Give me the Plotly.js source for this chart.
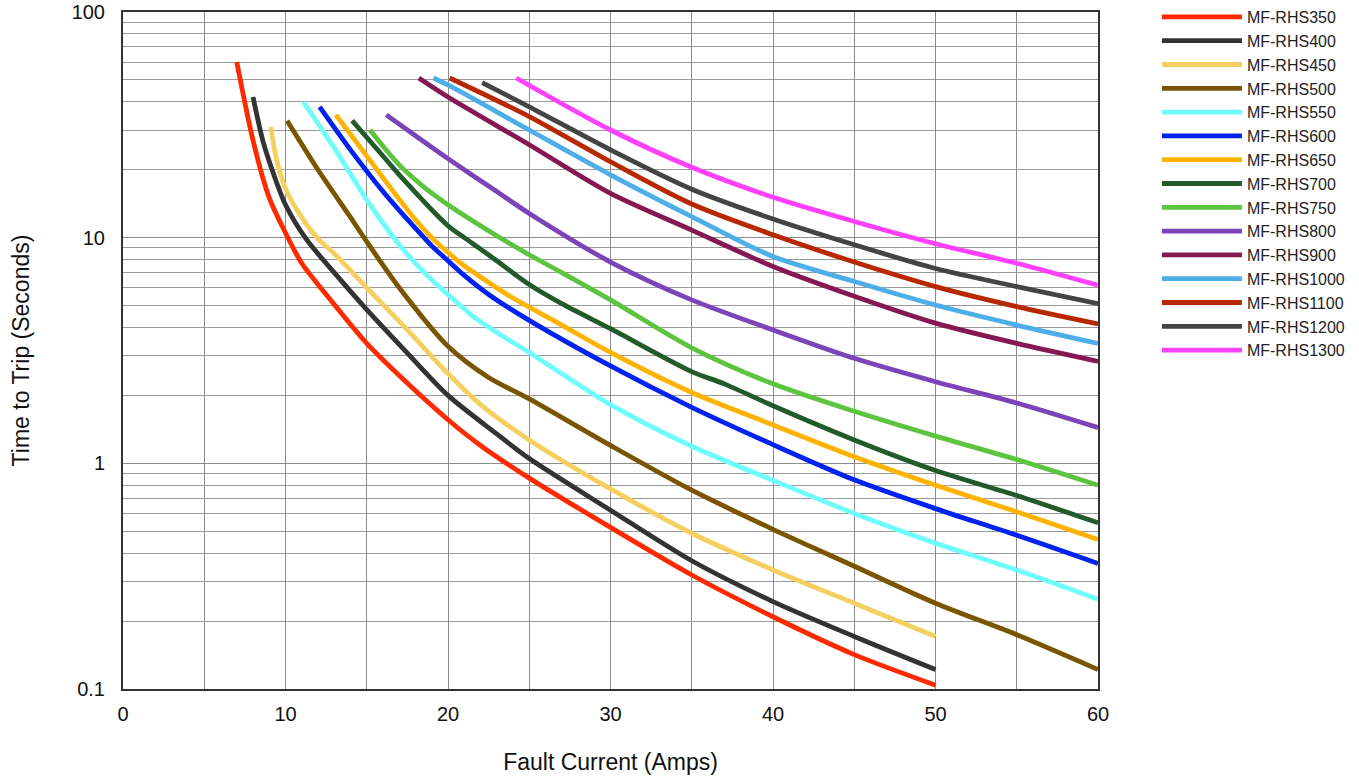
<!DOCTYPE html>
<html>
<head>
<meta charset="utf-8">
<script src="https://cdn.plot.ly/plotly-3.0.1.min.js"></script>
<style>
html,body{margin:0;padding:0;background:#fff;}
#chart{width:1359px;height:780px;}
</style>
</head>
<body>
<div id="chart"></div>
<script>
// Series names
const names = ["MF-RHS350","MF-RHS400","MF-RHS450","MF-RHS500","MF-RHS550","MF-RHS600","MF-RHS650","MF-RHS700","MF-RHS750","MF-RHS800","MF-RHS900","MF-RHS1000","MF-RHS1100","MF-RHS1200","MF-RHS1300"];
const colors = ["#ff2a00","#333333","#f5d060","#7a5500","#6ffcfc","#0022ee","#ffb300","#235a2a","#5cc43e","#7b44b8","#851850","#4daee8","#b82800","#444444","#ff40ff"];

// Fault current (A) and time to trip (s)
const x350 = [7,8,9,10,11,12.5,15,17,20,22,25,30,35,40,45,50];
const y350 = [60,27,15,10.5,7.7,5.6,3.4,2.45,1.56,1.2,0.86,0.52,0.32,0.209,0.142,0.104];
const x400 = [8,8.6,9.25,10,11.3,13,15,17.5,20,23,25,30,35,40,45,50];
const y400 = [42,27,19.3,14,9.8,7.0,4.8,3.08,2.0,1.35,1.05,0.62,0.37,0.244,0.171,0.122];
const x450 = [9.1,9.4,10,11,12,13,15,17.5,20,22,25,30,35,40,45,50];
const y450 = [31,23,16.5,12.3,9.9,8.5,6.0,3.9,2.5,1.82,1.27,0.77,0.49,0.337,0.24,0.171];
const x500 = [10.1,12,14,15,17,20,22.5,25,30,35,40,45,50,55,60];
const y500 = [33,20,12.3,9.6,6.0,3.3,2.4,1.93,1.2,0.76,0.51,0.35,0.24,0.174,0.122];
const x550 = [11.1,13,15,17,18,19,20,21.5,23,25,30,35,40,45,50,55,60];
const y550 = [40,25,14.7,9.3,7.7,6.5,5.6,4.5,3.8,3.1,1.82,1.19,0.84,0.60,0.443,0.337,0.25];
const x600 = [12.1,14,16,17,18,19,20,21,22.5,25,30,35,40,45,50,55,60];
const y600 = [38,24.5,16,13.2,11,9.2,7.9,6.8,5.6,4.3,2.7,1.77,1.21,0.845,0.63,0.48,0.36];
const x650 = [13.1,15,17,18,19,20,21,22,24,27,30,35,40,45,50,55,60];
const y650 = [35,23,14.8,12,10,8.6,7.5,6.7,5.4,4.1,3.1,2.06,1.48,1.07,0.80,0.61,0.46];
const x700 = [14.1,16,17,20,21,22,23,25,27,30,35,37,40,45,50,55,60];
const y700 = [33,23,19,11.3,10.0,8.9,7.9,6.2,5.1,3.95,2.55,2.25,1.8,1.27,0.93,0.72,0.545];
const x750 = [15.2,17,18.5,20,23,25,27,30,35,40,45,50,55,60];
const y750 = [30,21,16.8,14,10.2,8.4,7.0,5.3,3.25,2.25,1.7,1.32,1.04,0.80];
const x800 = [16.2,18,20,23,25,30,35,40,45,50,55,60];
const y800 = [35,28.3,22.4,16,12.8,7.8,5.3,3.9,2.92,2.3,1.85,1.44];
const x900 = [18.2,20,25,30,35,40,45,50,55,60];
const y900 = [51,42,25.8,15.7,10.8,7.45,5.5,4.18,3.4,2.83];
const x1000 = [19.1,20,25,30,35,40,45,50,55,60];
const y1000 = [51,47.5,30,19,12.4,8.25,6.4,5.03,4.1,3.4];
const x1100 = [20.1,25,30,35,40,45,50,55,60];
const y1100 = [51,34.4,21.7,14.1,10.3,7.8,6.07,4.95,4.15];
const x1200 = [22.1,25,30,35,40,45,50,55,60];
const y1200 = [48.7,38,24.5,16.4,12.1,9.3,7.3,6.07,5.1];
const x1300 = [24.2,30,35,40,45,50,55,60];
const y1300 = [51,30,20.5,15.1,11.8,9.4,7.7,6.15];

const xs = [x350,x400,x450,x500,x550,x600,x650,x700,x750,x800,x900,x1000,x1100,x1200,x1300];
const ys = [y350,y400,y450,y500,y550,y600,y650,y700,y750,y800,y900,y1000,y1100,y1200,y1300];

// Axis ticks
const xTickVals = [0,10,20,30,40,50,60];
const yTickVals = [0.1,1,10,100];
const yTickText = ["0.1","1","10","100"];
const yMinorVals = [];
[0.1,1,10].forEach(d => { for (let k=2;k<=9;k++) yMinorVals.push(+(d*k).toPrecision(3)); });

const FONT = "'Liberation Sans',Arial,Helvetica,sans-serif";

const traces = names.map((n,i) => ({
  type: 'scatter', mode: 'lines', name: n,
  x: xs[i], y: ys[i],
  line: {color: colors[i], width: 4.8, shape: 'spline', smoothing: 0.8},
  hoverinfo: 'x+y+name'
}));

const layout = {
  width: 1359, height: 780,
  margin: {l: 123, r: 261, t: 12, b: 91},
  paper_bgcolor: '#ffffff', plot_bgcolor: '#ffffff',
  font: {family: FONT, color: '#111', size: 18},
  showlegend: true,
  legend: {
    xref: 'container', yref: 'container',
    x: 0.8513, y: 1.0, xanchor: 'left', yanchor: 'top',
    font: {family: FONT, size: 16, color: '#222'},
    itemwidth: 80, tracegroupgap: 0,
    bgcolor: 'rgba(0,0,0,0)', borderwidth: 0
  },
  xaxis: {
    range: [0, 60], tickvals: xTickVals, ticks: '',
    showgrid: true, gridcolor: '#8c8c8c', gridwidth: 1,
    minor: {dtick: 5, showgrid: true, gridcolor: '#8c8c8c', gridwidth: 1},
    showline: true, linecolor: '#333', linewidth: 2, mirror: true,
    zeroline: false, ticklabelstandoff: 6,
    tickfont: {family: FONT, size: 20, color: '#111'},
    title: {text: 'Fault Current (Amps)', font: {family: FONT, size: 23, color: '#111'}, standoff: 30}
  },
  yaxis: {
    type: 'log', range: [-1, 2],
    tickvals: yTickVals, ticktext: yTickText, ticks: '',
    showgrid: true, gridcolor: '#8c8c8c', gridwidth: 1,
    minor: {tickvals: yMinorVals, showgrid: true, gridcolor: '#9a9a9a', gridwidth: 1, ticks: ''},
    showline: true, linecolor: '#333', linewidth: 2, mirror: true,
    zeroline: false, ticklabelstandoff: 12,
    tickfont: {family: FONT, size: 20, color: '#111'},
    title: {text: 'Time to Trip (Seconds)', font: {family: FONT, size: 23, color: '#111'}, standoff: 36}
  }
};

Plotly.newPlot('chart', traces, layout, {displayModeBar: false, staticPlot: true});
</script>
</body>
</html>
